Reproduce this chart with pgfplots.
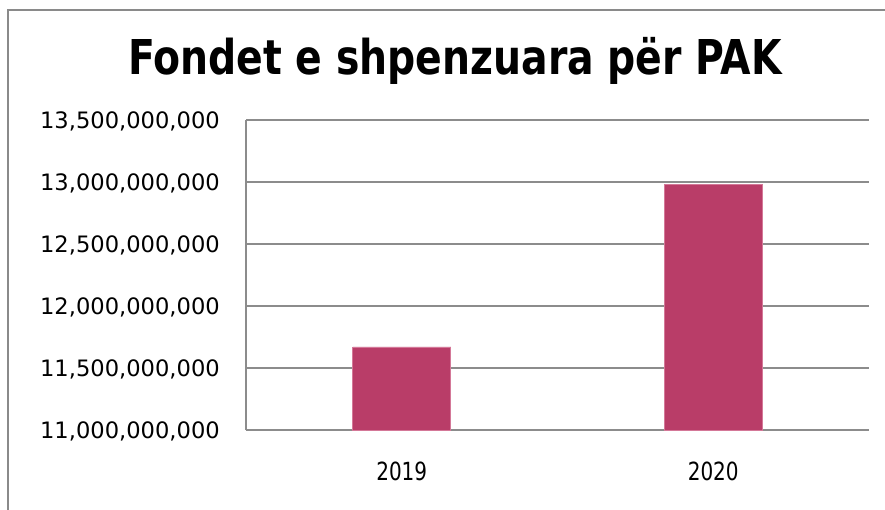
\documentclass[border=0pt]{standalone}
\usepackage{fontspec}
\setmainfont{DejaVu Sans}
\newfontfamily\titlefont{DejaVu Sans}[FakeStretch=0.82]
\newfontfamily\narrowfont{DejaVu Sans}[FakeStretch=0.8]
\usepackage{pgfplots}
\pgfplotsset{compat=1.18}
\definecolor{barcol}{RGB}{185,61,104}
\definecolor{baredge}{RGB}{212,120,152}
\definecolor{gridcol}{RGB}{140,140,140}
\definecolor{framecol}{RGB}{138,138,138}
\begin{document}
\begin{tikzpicture}[x=1pt,y=1pt]
\useasboundingbox (0,0) rectangle (885,509);
\draw[line width=2.5pt, framecol] (8,-5) -- (8,499) -- (890,499);
\node[anchor=base, inner sep=0pt] at (455,434) {\titlefont\fontsize{48}{56}\selectfont\bfseries Fondet e shpenzuara për PAK};
\begin{axis}[
  at={(246pt,79pt)}, anchor=south west,
  width=623pt, height=310pt, scale only axis,
  xmin=-0.5, xmax=1.5,
  ymin=11000000000, ymax=13500000000,
  xtick={0,1}, xticklabels={2019,2020},
  ytick={11000000000,11500000000,12000000000,12500000000,13000000000,13500000000},
  yticklabels={{11,000,000,000},{11,500,000,000},{12,000,000,000},{12,500,000,000},{13,000,000,000},{13,500,000,000}},
  scaled y ticks=false,
  major tick length=0pt,
  axis x line=bottom, axis y line=left,
  axis line style={-, line width=1.8pt, gridcol},
  ymajorgrids, major grid style={line width=1.8pt, gridcol},
  xticklabel style={font=\narrowfont\fontsize{25}{30}\selectfont, anchor=north, inner sep=0pt, text height=18.2pt, text depth=0pt, yshift=-32pt},
  yticklabel style={font=\fontsize{22.6}{27}\selectfont, anchor=east, inner sep=0pt, text height=16.5pt, text depth=0pt, xshift=-26pt},
  clip=false,
]
\addplot[ybar, bar width=98pt, fill=barcol, draw=baredge, line width=0.8pt] coordinates {(0,11670000000) (1,12980000000)};
\end{axis}
\end{tikzpicture}
\end{document}
